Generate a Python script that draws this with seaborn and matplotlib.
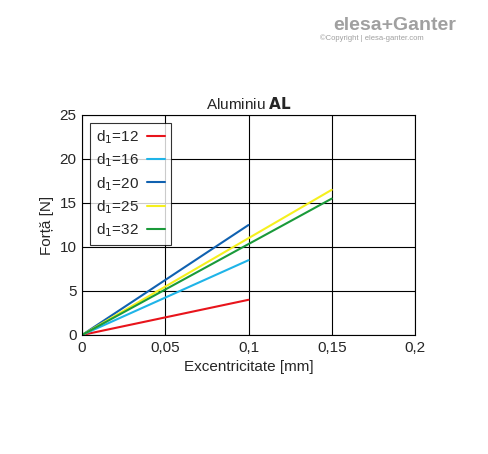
import numpy as np
import pandas as pd
import seaborn as sns
import matplotlib
matplotlib.use('Agg')
import matplotlib.pyplot as plt

labels = ['d$_1$=12', 'd$_1$=16', 'd$_1$=20', 'd$_1$=25', 'd$_1$=32']
x_end = [0.1, 0.1, 0.1, 0.15, 0.15]
y_end = [4, 8.5, 12.5, 16.5, 15.5]
colors = ['#e8141b', '#1fb4e8', '#1061b0', '#f5f01e', '#1a9a3a']

rows = []
for lab, xe, ye in zip(labels, x_end, y_end):
    rows.append({'d': lab, 'x': 0.0, 'y': 0.0})
    rows.append({'d': lab, 'x': xe, 'y': ye})
df = pd.DataFrame(rows)

sns.set_style('white')
plt.rcParams['font.family'] = ['Liberation Sans', 'DejaVu Sans']
fig = plt.figure(figsize=(4.88, 4.54), dpi=100)
ax = fig.add_axes([82/488, 1-335/454, (415-82)/488, (335-115)/454])
sns.lineplot(data=df, x='x', y='y', hue='d', palette=colors, ax=ax, linewidth=1.5)

ax.set_xlim(0, 0.2)
ax.set_ylim(0, 25)
ax.set_xticks([0, 0.05, 0.1, 0.15, 0.2])
ax.set_xticklabels(['0', '0,05', '0,1', '0,15', '0,2'])
ax.set_yticks(range(0, 26, 5))
ax.tick_params(labelsize=11, length=0, pad=4)
ax.grid(True, color='black', linewidth=0.8)
for s in ax.spines.values():
    s.set_color('black')
    s.set_linewidth(0.8)
ax.set_xlabel('Excentricitate [mm]', fontsize=11)
ax.set_ylabel('Forță [N]', fontsize=11)
ax.set_title('Aluminiu $\\bf{AL}$', fontsize=11, pad=4)
leg = ax.legend(loc='upper left', fontsize=11, frameon=True, fancybox=False,
                edgecolor='black', handlelength=1.2, borderaxespad=0.5,
                labelspacing=0.35, markerfirst=False, handletextpad=0.5)
leg.get_frame().set_linewidth(0.8)

fig.text(0.935, 0.935, 'elesa+Ganter', ha='right', fontsize=14, color='#a0a0a0', fontweight='bold')
fig.text(0.655, 0.912, '©Copyright | elesa-ganter.com', ha='left', fontsize=5.5, color='#a0a0a0')
fig.savefig('out.png', dpi=100)
